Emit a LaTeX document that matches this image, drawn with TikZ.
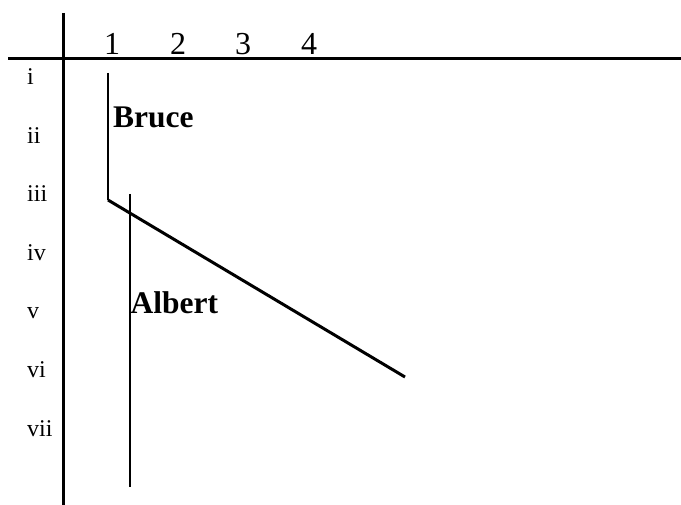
\documentclass[tikz,border=0pt]{standalone}
\usepackage{fontspec}
\setmainfont{Liberation Serif}
\usepackage{tikz}
\usetikzlibrary{positioning}
\tikzset{
  rowlabel/.style={anchor=base west, inner sep=0pt, font=\fontsize{24}{28}\selectfont},
  collabel/.style={anchor=base, inner sep=0pt, font=\fontsize{32}{36}\selectfont},
  person/.style={anchor=base west, inner sep=0pt, font=\fontsize{31.5}{36}\selectfont\bfseries},
  axis/.style={line width=3pt},
  life/.style={line width=2.4pt},
}

\begin{document}
\begin{tikzpicture}[x=1pt, y=-1pt]
  \useasboundingbox (0,0) rectangle (681,505);
  % axes
  \coordinate (hleft) at (8,59);
  \coordinate (hright) at (681,59);
  \coordinate (vtop) at (63,13);
  \coordinate (vbot) at (63,505);
  \draw[axis] (hleft) -- (hright);
  \draw[axis] (vtop) -- (vbot);
  % column and row labels
  \node[collabel] (c1) at (112,54.5) {1};
  \node[collabel] (c2) at (178,54.5) {2};
  \node[collabel] (c3) at (243,54.5) {3};
  \node[collabel] (c4) at (309,54.5) {4};
  \foreach \lab [count=\k] in {i,ii,iii,iv,v,vi,vii}
    \node[rowlabel] (r\k) at (27,{85+58.5*(\k-1)}) {\lab};
  % Bruce
  \coordinate (btop) at (108,73);
  \coordinate (bturn) at (108,200);
  \coordinate (bend) at (405,377);
  \draw[life] (btop) -- (bturn);
  \draw[axis] (bturn) -- (bend);
  \node[person] (bruce) at (113,128) {Bruce};
  % Albert
  \coordinate (atop) at (130,194);
  \coordinate (abot) at (130,487);
  \draw[life] (atop) -- (abot);
  \node[person] (albert) at (130.5,314) {Albert};
\end{tikzpicture}
\end{document}
